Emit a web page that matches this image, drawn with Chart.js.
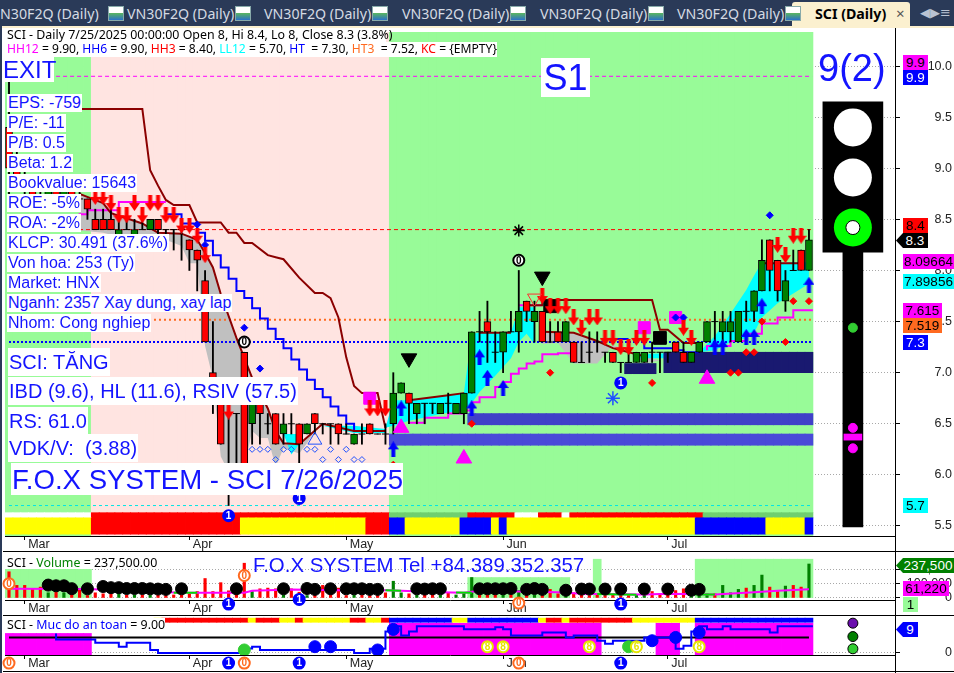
<!DOCTYPE html>
<html>
<head>
<meta charset="utf-8">
<title>SCI Daily</title>
<script src="https://cdn.jsdelivr.net/npm/chart.js@4"></script>
<style>
html, body { margin: 0; padding: 0; background: #fff; overflow: hidden; }
#page { position: relative; width: 954px; height: 673px; overflow: hidden; font-family: "Liberation Sans", sans-serif; }
canvas { position: absolute; left: 0; display: block; }
.t { position: absolute; white-space: pre; }
.info { color: #1414ff; background: #fff; font-size: 16px; line-height: 18px; padding: 0 1px; }
.big { color: #1414ff; background: #fff; font-size: 20px; line-height: 28px; padding: 0 1px; }
.leg { color: #000; font-family: "Noto Sans", sans-serif; font-size: 12.4px; line-height: 14px; }
.tab { position: absolute; top: 5px; color: #d5dae3; font: 14.2px "Noto Sans", sans-serif; line-height: 18px; white-space: pre; }
.ico { position: absolute; top: 6px; width: 16px; height: 15px; background: linear-gradient(#fff 45%, #5cb85c 45%, #2b70c9); border: 1px solid #8aa; box-sizing: border-box; }
.tag { position: absolute; height: 15px; line-height: 15px; font-size: 13.5px; text-align: center; }
.ln { position: absolute; background: #000; }
</style>
</head>
<body>
<div id="page">
  <div style="position:absolute;left:0;top:0;width:954px;height:26px;background:#2a3a58"></div>
  <div style="position:absolute;left:0;top:26px;width:954px;height:2px;background:#fbf0cf"></div>
  <div style="position:absolute;left:0;top:26px;width:2px;height:647px;background:#2a3a58"></div>
  <div style="position:absolute;left:792px;top:2px;width:118px;height:25px;background:#fbf0cf;border-radius:3px 3px 0 0"></div>
  <div id="tabs"></div>
  <div class="t" style="left:815px;top:5px;font:bold 14.2px 'Noto Sans',sans-serif;line-height:18px;color:#000">SCI (Daily)</div>
  <div class="t" style="left:896px;top:4px;font:15px 'Noto Sans',sans-serif;line-height:18px;color:#555">×</div>
  <div class="t" style="left:920px;top:5px;font:13px 'DejaVu Sans',sans-serif;line-height:16px;color:#b9c2d2">◀▶≡</div>

  <canvas id="mainChart" width="954" height="524" style="top:28px"></canvas>
  <canvas id="volChart" width="954" height="64" style="top:552px"></canvas>
  <canvas id="safeChart" width="954" height="55" style="top:616px"></canvas>

  <div class="ln" style="left:3px;top:551px;width:951px;height:1px"></div>
  <div class="ln" style="left:3px;top:615px;width:951px;height:1px"></div>
  <div class="ln" style="left:3px;top:671px;width:951px;height:1px"></div>
  <div class="ln" style="left:895px;top:28px;width:1px;height:645px"></div>

  <div class="t leg" style="left:5px;top:28px;width:379px;background:#fff;padding-left:2px">SCI - Daily 7/25/2025 00:00:00 Open 8, Hi 8.4, Lo 8, Close 8.3 (3.8%)</div>
  <div class="t leg" style="left:5px;top:42px;width:490px;background:#fff;padding-left:2px;height:15px;font-size:12.1px"><span style="color:#f0f">HH12</span> = 9.90, <span style="color:#00f">HH6</span> = 9.90, <span style="color:#f00">HH3</span> = 8.40, <span style="color:#0ff">LL12</span> = 5.70, <span style="color:#00f">HT</span>  = 7.30, <span style="color:#ff6a20">HT3</span>  = 7.52, <span style="color:#f00">KC</span> = {EMPTY}</div>

  <div class="t" style="left:3px;top:57px;width:51px;height:25px;background:#fff;color:#1414ff;font-size:24px;line-height:26px">EXIT</div>
  <div class="t" style="left:541px;top:58px;width:49px;height:39px;background:#fff;color:#1414ff;font-size:36px;line-height:40px;text-align:center">S1</div>
  <div class="t" style="left:818px;top:46px;color:#1414ff;font-size:38px;line-height:44px">9(2)</div>

  <div class="t info" style="left:7px;top:94px">EPS: -759</div>
  <div class="t info" style="left:7px;top:114px">P/E: -11</div>
  <div class="t info" style="left:7px;top:134px">P/B: 0.5</div>
  <div class="t info" style="left:7px;top:154px">Beta: 1.2</div>
  <div class="t info" style="left:7px;top:174px">Bookvalue: 15643</div>
  <div class="t info" style="left:7px;top:194px">ROE: -5%</div>
  <div class="t info" style="left:7px;top:214px">ROA: -2%</div>
  <div class="t info" style="left:7px;top:234px">KLCP: 30.491 (37.6%)</div>
  <div class="t info" style="left:7px;top:254px">Von hoa: 253 (Ty)</div>
  <div class="t info" style="left:7px;top:274px">Market: HNX</div>
  <div class="t info" style="left:7px;top:294px">Nganh: 2357 Xay dung, xay lap</div>
  <div class="t info" style="left:7px;top:314px">Nhom: Cong nghiep</div>

  <div class="t big" style="left:8px;top:348px">SCI: TĂNG</div>
  <div class="t big" style="left:8px;top:377px">IBD (9.6), HL (11.6), RSIV (57.5)</div>
  <div class="t big" style="left:8px;top:407px">RS: 61.0</div>
  <div class="t big" style="left:8px;top:434px">VDK/V:  (3.88)</div>
  <div class="t" style="left:11px;top:463px;width:392px;height:32px;background:#fff;color:#1414ff;font-size:27.6px;line-height:33px;padding-left:1px;box-sizing:border-box">F.O.X SYSTEM - SCI 7/26/2025</div>

  <div class="t leg" style="left:7px;top:556px">SCI - <span style="color:#008000">Volume</span> = 237,500.00</div>
  <div class="t" style="left:253px;top:553px;color:#1414ff;font-size:20.4px;line-height:24px">F.O.X SYSTEM Tel +84.389.352.357</div>
  <div class="t leg" style="left:7px;top:618px;background:#fff">SCI - <span style="color:#00f">Muc do an toan</span> = 9.00</div>
  <div id="tags"></div>
</div>

<script>
// tab bar
const tabTitles = ['N30F2Q (Daily)', 'VN30F2Q (Daily)', 'VN30F2Q (Daily)', 'VN30F2Q (Daily)', 'VN30F2Q (Daily)', 'VN30F2Q (Daily)'];

// bars: open, high, low, close, one entry per trading day
const candleOpen = [9.4, 9.0, 8.8, 8.8, 8.7, 8.7, 8.8, 8.7, 8.8, 8.7, 8.7, 8.5, 8.5, 8.5, 8.3, 8.4, 8.3, 8.4, 8.4, 8.5, 8.4, 8.4, 8.4, 8.3, 8.2, 7.9, 7.0, 6.7, 6.0, 6.6, 7.2, 6.5, 6.7, 6.5, 6.6, 6.4, 6.5, 6.5, 6.4, 6.6, 6.5, 6.5, 6.5, 6.4, 6.3, 6.4, 6.5, 6.4, 6.4, 6.5, 6.8, 6.8, 6.6, 6.7, 6.7, 6.6, 6.7, 6.6, 6.6, 6.8, 7.4, 7.5, 7.2, 7.2, 7.4, 7.4, 7.7, 7.5, 7.6, 7.3, 7.4, 7.3, 7.3, 7.1, 7.2, 7.3, 7.2, 7.2, 7.1, 7.1, 7.1, 7.1, 7.2, 7.2, 7.2, 7.3, 7.2, 7.1, 7.2, 7.3, 7.5, 7.4, 7.4, 7.3, 7.6, 7.6, 7.8, 8.3, 8.1, 7.7, 8.0, 8.2, 8.0];
const candleHigh = [9.9, 9.2, 9.0, 8.9, 8.9, 8.8, 8.9, 8.8, 8.9, 8.8, 8.7, 8.6, 8.6, 8.6, 8.5, 8.5, 8.5, 8.5, 8.5, 8.5, 8.4, 8.4, 8.4, 8.3, 8.2, 8.0, 7.5, 6.7, 6.6, 6.6, 7.2, 6.7, 6.7, 6.6, 6.6, 6.6, 6.6, 6.5, 6.5, 6.6, 6.5, 6.5, 6.5, 6.5, 6.4, 6.5, 6.5, 6.4, 6.5, 7.0, 6.9, 6.8, 6.7, 6.7, 6.7, 6.7, 6.8, 6.7, 6.8, 7.4, 7.6, 7.7, 7.4, 7.4, 7.6, 8.0, 7.7, 7.7, 7.6, 7.5, 7.5, 7.5, 7.3, 7.3, 7.4, 7.4, 7.2, 7.2, 7.1, 7.2, 7.2, 7.2, 7.3, 7.2, 7.2, 7.3, 7.3, 7.2, 7.3, 7.5, 7.6, 7.6, 7.6, 7.6, 7.7, 7.8, 8.3, 8.3, 8.1, 8.0, 8.2, 8.2, 8.4];
const candleLow = [8.7, 8.8, 8.7, 8.7, 8.6, 8.6, 8.7, 8.6, 8.7, 8.6, 8.5, 8.4, 8.4, 8.4, 8.3, 8.4, 8.3, 8.4, 8.4, 8.3, 8.3, 8.2, 8.1, 8.0, 7.8, 7.3, 6.6, 6.3, 5.7, 6.1, 6.0, 6.3, 6.3, 6.4, 6.3, 6.3, 6.4, 6.1, 6.4, 6.4, 6.4, 6.3, 6.3, 6.4, 6.3, 6.3, 6.4, 6.4, 6.3, 6.4, 6.8, 6.5, 6.5, 6.5, 6.6, 6.6, 6.6, 6.6, 6.5, 6.8, 7.3, 7.1, 7.1, 7.0, 7.4, 7.2, 7.5, 7.3, 7.3, 7.3, 7.3, 7.3, 7.1, 7.1, 7.1, 7.2, 7.1, 7.1, 7.0, 7.1, 7.1, 7.1, 7.1, 7.0, 7.1, 7.2, 7.1, 7.1, 7.2, 7.3, 7.3, 7.3, 7.3, 7.3, 7.5, 7.5, 7.8, 7.8, 7.7, 7.6, 8.0, 8.0, 8.0];
const candleClose = [9.0, 8.8, 8.8, 8.7, 8.7, 8.8, 8.7, 8.8, 8.7, 8.7, 8.6, 8.4, 8.4, 8.4, 8.4, 8.4, 8.4, 8.4, 8.5, 8.4, 8.4, 8.4, 8.4, 8.2, 8.1, 7.3, 6.9, 6.3, 6.0, 6.6, 6.0, 6.7, 6.6, 6.5, 6.3, 6.5, 6.5, 6.3, 6.5, 6.5, 6.5, 6.5, 6.4, 6.4, 6.4, 6.4, 6.4, 6.4, 6.4, 6.8, 6.9, 6.7, 6.7, 6.7, 6.7, 6.7, 6.7, 6.7, 6.8, 7.4, 7.4, 7.4, 7.2, 7.4, 7.4, 7.6, 7.6, 7.6, 7.3, 7.3, 7.3, 7.5, 7.1, 7.1, 7.2, 7.3, 7.2, 7.1, 7.1, 7.1, 7.2, 7.2, 7.2, 7.2, 7.2, 7.2, 7.1, 7.2, 7.3, 7.5, 7.5, 7.5, 7.5, 7.6, 7.6, 7.8, 8.1, 8.0, 7.8, 7.9, 8.0, 8.0, 8.3];

const volumeValues = [183000, 88000, 88000, 64000, 76000, 36000, 40000, 36000, 52000, 64000, 17000, 36000, 29000, 29000, 33000, 21000, 21000, 21000, 21000, 21000, 17000, 21000, 21000, 29000, 45000, 136000, 45000, 107000, 50000, 36000, 243000, 45000, 64000, 69000, 64000, 21000, 64000, 40000, 17000, 36000, 88000, 29000, 69000, 17000, 21000, 21000, 17000, 17000, 36000, 117000, 36000, 29000, 21000, 29000, 29000, 21000, 36000, 21000, 36000, 143000, 21000, 21000, 21000, 21000, 21000, 52000, 21000, 21000, 21000, 60000, 29000, 21000, 36000, 21000, 17000, 21000, 17000, 21000, 21000, 17000, 21000, 29000, 45000, 29000, 21000, 52000, 64000, 36000, 40000, 29000, 29000, 88000, 36000, 60000, 69000, 88000, 160000, 76000, 45000, 83000, 88000, 76000, 237500];

// x axis
const monthTicks = [2, 23, 43, 63, 84];
const monthLabels = ['Mar', 'Apr', 'May', 'Jun', 'Jul'];
const priceTicks = [5.5, 6, 6.5, 7, 7.5, 8, 8.5, 9, 9.5, 10];
const volumeTicks = [0, 100000, 200000];
const safetyTicks = [0];

// horizontal levels
const levelHH12 = 9.9, levelHH3 = 8.4, levelHT3 = 7.519, levelHT = 7.3, levelLL12 = 5.7;

// [bar, price] stop and average lines
const stopUpper = [[9, 9.58], [17, 9.58], [18, 8.98], [19, 8.83], [20, 8.69], [21, 8.64], [23, 8.64], [24, 8.47], [27, 8.47], [28, 8.37], [29, 8.37], [30, 8.27], [31, 8.27], [33, 8.15], [34, 8.13], [35, 8.11], [37, 7.93], [39, 7.78], [40, 7.78], [41, 7.73], [42, 7.54], [43, 7.15], [44, 6.87], [45, 6.8], [47, 6.8], [48, 6.46]];
const stopLower = [[9, 8.75], [12, 8.66], [13, 8.56], [17, 8.46], [19, 8.37], [22, 8.36], [24, 8.3], [25, 8.17], [26, 8.03], [27, 7.77], [29, 7.34], [31, 6.95], [33, 6.65], [34, 6.43], [35, 6.31], [37, 6.3], [40, 6.5], [44, 6.43], [46, 6.43], [48, 6.43]];
const stopHigh = [[51, 6.73], [56, 6.78], [58, 6.8], [58.5, null], [60, 7.39], [64, 7.39], [64.5, null], [66, 7.66], [68, 7.66], [68, 7.71], [82, 7.71], [83, 7.42], [84, 7.42], [86, 7.29], [88, 7.29], [88.5, null], [96, 8.07], [101, 8.07]];
const stopFall = [[68, 7.4], [72, 7.39], [75, 7.31], [77, 7.24], [81, 7.16]];
const blueStep = [[20, 8.6], [22, 8.55], [24, 8.46], [25, 8.37], [26, 8.29], [27, 8.15], [28, 8.03], [29, 7.92], [30, 7.8], [31, 7.73], [32, 7.63], [33, 7.53], [34, 7.43], [35, 7.33], [36, 7.24], [37, 7.13], [38, 7.03], [39, 6.93], [40, 6.84], [41, 6.76], [42, 6.67], [43, 6.58], [44, 6.5], [45, 6.43], [48, 6.43]];
const blueStepLow = [[76, 7.33], [79, 7.33], [79.5, null], [81, 7.28], [85, 7.24], [86, 7.22], [88, 7.2]];
const magentaStep = [[9, 8.46], [10, 8.55], [14, 8.59], [16, 8.67], [20, 8.67], [20.5, null], [51, 6.5], [53, 6.51], [56, 6.56], [58, 6.6], [59, 6.63], [60, 6.71], [62, 6.76], [63, 6.86], [64, 6.91], [65, 6.99], [66, 7.04], [67, 7.09], [68, 7.11], [70, 7.18], [72, 7.19], [72.5, null], [89, 7.22], [92, 7.26], [94, 7.31], [96, 7.38], [98, 7.48], [100, 7.54], [101, 7.61], [102.5, 7.61]];
const magentaTop = [[65, 7.66], [68, 7.66], [68.5, null], [69, 7.71], [73, 7.71]];

// [bar, upper, lower] shaded clouds
const greyCloudA = [[9, 8.75, 8.39], [12, 8.66, 8.37], [14, 8.52, 8.33], [17, 8.46, 8.33], [19, 8.37, 8.33], [22, 8.36, 8.24], [23, 8.33, 8.07], [24, 8.3, 8.07], [25, 8.17, 7.26], [26, 8.03, 6.94], [27, 7.77, 6.18], [28, 7.55, 6.03], [29, 7.34, 6.08], [30, 7.15, 6.08], [31, 6.95, 6.43], [32, 6.8, 6.36], [33, 6.65, 6.36], [34, 6.43, 6.08], [35, 6.31, 6.26], [37, 6.3, 6.21], [38, 6.37, 6.31], [39, 6.44, 6.43]];
const greyCloudB = [[68, 7.4, 7.28], [70, 7.4, 7.29], [72, 7.39, 7.09], [75, 7.31, 7.09], [77, 7.24, 7.27], [79, 7.2, 7.22], [81, 7.16, 7.09], [83, 7.12, 7.12]];
const cyanCloudA = [[48, 6.46, 6.46], [49, 6.73, 6.48], [51, 6.73, 6.53], [56, 6.78, 6.61], [58, 6.8, 6.63], [59, 7.38, 6.7], [60, 7.39, 6.81], [62, 7.39, 6.97], [64, 7.39, 7.14], [65, 7.64, 7.3], [66, 7.64, 7.38], [67, 7.64, 7.28]];
const cyanCloudB = [[88, 7.2, 7.2], [90, 7.36, 7.22], [92, 7.58, 7.3], [94, 7.81, 7.34], [95, 7.95, 7.39], [96, 8.08, 7.54], [98, 8.08, 7.68], [102, 8.08, 7.87]];
const cyanCloudC = [[35, 6.4, 6.4], [36, 6.4, 6.2], [37, 6.4, 6.3]];
const cyanCloudD = [[40, 6.48, 6.48], [44, 6.48, 6.41], [48, 6.45, 6.41]];
const cyanCloudE = [[80, 7.18, 7.14], [88, 7.2, 7.14]];

// [first bar, last bar, price low, price high] support boxes
const supportBoxes = [[49, 102, 6.29, 6.4, '#4a4ad8'], [59, 102, 6.49, 6.6, '#4040c8'], [84, 102, 7.0, 7.2, '#191970'], [79, 82, 6.99, 7.09, '#191970']];

// markers [bar, price]
const redArrows = [[11, 8.72], [12, 8.72], [13, 8.66], [14, 8.54], [15, 8.54], [16, 8.66], [17, 8.54], [18, 8.66], [19, 8.66], [20, 8.54], [21, 8.54], [22, 8.44], [23, 8.44], [24, 8.34], [25, 8.15], [28, 6.62], [46, 6.65], [47, 6.65], [48, 6.65], [68, 7.75], [69, 7.65], [70, 7.65], [71, 7.65], [72, 7.54], [73, 7.44], [74, 7.54], [75, 7.54], [76, 7.34], [77, 7.34], [78, 7.25], [79, 7.25], [80, 7.34], [81, 7.34], [86, 7.44], [87, 7.34], [98, 8.25], [99, 8.15], [100, 8.34], [101, 8.34]];
const blueArrows = [[49, 6.25], [50, 6.65], [59, 6.65], [60, 7.15], [61, 6.95], [63, 6.85], [90, 7.25], [91, 7.25], [94, 7.35], [95, 7.35], [96, 7.65], [102, 7.86]];
const blueDiamonds = [[24, 8.45], [25, 8.25], [30, 7.44], [32, 7.04], [85, 7.54], [86, 7.54], [97, 8.54]];
const redDiamonds = [[49, 6.1], [59, 6.5], [69, 7.0], [82, 6.9], [92, 7.0], [93, 7.0], [94, 7.2], [95, 7.2], [96, 7.5], [99, 7.3], [100, 7.7], [102, 7.7]];
const hollowDiamonds = [[31, 6.25], [32, 6.25], [33, 6.25], [35, 6.25], [36, 6.25], [38, 6.25], [39, 6.25], [41, 6.25], [43, 6.25], [34, 6.15], [40, 6.15], [42, 6.15], [44, 6.15], [45, 6.15]];
const magentaTriangles = [[50, 6.46], [58, 6.16], [89, 6.94]];
const blackTriangles = [[51, 7.14], [68, 7.94]];
const hollowRedTriangles = [[67, 7.73]];
const hollowBlueTriangles = [[39, 6.34]];
const magentaSquares = [[46, 6.75], [81, 7.44], [85, 7.54]];
const blackSquares = [[69, 7.65], [83, 7.34]];
const blackStars = [[65, 8.39]];
const blueStars = [[77, 6.75]];

// traffic light, drawn on the empty bars right of the last trading day
const lightBar = 107.6;
const lightHousing = [8.18, 9.65];
const lightPole = [5.49, 8.18];
const lightDash = [6.34, 6.4];
const lightWhite = [9.4, 8.91];
const lightGreen = [8.42];
const lightDotGreen = [7.44];
const lightDotMagenta = [6.46, 6.26];

// background colour runs [first bar, last bar, colour]
const regimeRuns = [[0, 10, '#98fb98'], [11, 48, '#ffe4e1'], [49, 102, '#98fb98']];
const stripTopRuns = [[0, 10, '#ffffff'], [11, 48, '#ff0000'], [49, 58, '#6fcf6f'], [59, 64, '#ff0000'], [65, 67, '#ffffff'], [68, 70, '#ff0000'], [71, 71, '#ffffff'], [72, 88, '#ff0000'], [89, 102, '#6fcf6f']];
const stripLowRuns = [[0, 10, '#ffff00'], [11, 29, '#ff0000'], [30, 45, '#ffff00'], [46, 48, '#ff0000'], [49, 50, '#0000ff'], [51, 57, '#ffff00'], [58, 61, '#0000ff'], [62, 62, '#ffff00'], [63, 63, '#0000ff'], [64, 87, '#ffff00'], [88, 96, '#0000ff'], [97, 101, '#ffff00'], [102, 102, '#0000ff']];
const stripFootRuns = [[0, 10, '#98fb98'], [11, 48, '#ffe4e1'], [49, 102, '#98fb98']];

// volume pane
const volumeDots = [[5, 90000], [6, 85000], [7, 85000], [8, 65000], [10, 64000], [12, 80000], [13, 72000], [14, 72000], [15, 66000], [16, 66000], [17, 66000], [18, 64000], [19, 62000], [20, 60000], [22, 64000], [29, 64000], [35, 64000], [38, 66000], [39, 60000], [41, 64000], [43, 64000], [44, 64000], [45, 64000], [46, 60000], [47, 60000], [52, 64000], [53, 62000], [54, 64000], [55, 64000], [60, 64000], [61, 64000], [62, 64000], [63, 64000], [64, 66000], [66, 60000], [67, 66000], [68, 60000], [71, 54000], [73, 62000], [74, 62000], [76, 62000], [78, 62000], [81, 62000], [84, 62000], [87, 54000], [88, 60000]];
const volumeAverage = [[0, 64000], [10, 62000], [22, 36000], [30, 36000], [31, 50000], [36, 60000], [46, 50000], [47, 55000], [50, 50000], [55, 40000], [58, 36000], [60, 50000], [70, 40000], [73, 30000], [81, 25000], [84, 30000], [90, 25000], [95, 40000], [98, 50000], [102, 61220]];
const volumeAverageGreen = [[21, 36000], [24, 36000], [24.5, null], [44, 48000], [47, 48000], [47.5, null], [48, 54000], [50, 50000], [50.5, null], [57, 38000], [59, 36000], [59.5, null], [75, 28000], [80, 22000], [80.5, null], [87, 24000], [90, 24000]];
const volumeBgRuns = [[0, 10, 200000], [59, 71, 143000], [75, 75, 271000], [88, 102, 271000]];

// safety pane
const safetyLine = [[6, 6.55], [11, 4.5], [14, 3.45], [15, 2.1], [18, 3.45], [19, 1], [24, 0], [30, 0], [31, 1.5], [32, 2.1], [44, 1], [46, 0], [48, 1.4], [49, 7.2], [50, 9], [51, 5.9], [52, 7.2], [58, 9], [62, 8], [63, 8.6], [64, 8], [68, 5.9], [71, 6.9], [72, 5.2], [75, 5.9], [76, 4.1], [77, 3.1], [81, 4.1], [85, 5.2], [86, 1.4], [87, 2.4], [88, 7.2], [89, 9], [91, 8], [92, 9], [97, 8], [98, 6.9], [102, 9], [102.5, 9]];
const safetyLevel = 5.2;
const safetyBlueDots = [[39, 2.1], [41, 2.1], [47, 1], [49, 7.9], [82, 4.1], [85, 5.2], [88, 6.9]];
const safetyGreenDots = [[30, 1], [79, 2.1]];
const safetyBgRuns = [[0, 10, 6.55], [49, 75, 10], [83, 85, 10], [88, 102, 10]];
const safetyStripRuns = [[19, 19, '#ffff00'], [20, 30, '#ff0000'], [31, 31, '#ffff00'], [32, 34, '#ff0000'], [35, 36, '#ffff00'], [37, 37, '#ff0000'], [38, 43, '#ffff00'], [44, 45, '#ff0000'], [46, 47, '#ffff00'], [48, 48, '#ff0000'], [49, 56, '#0000ff'], [57, 58, '#ffff00'], [59, 67, '#0000ff'], [68, 68, '#ffff00'], [69, 70, '#ff0000'], [71, 71, '#ffff00'], [72, 79, '#ff0000'], [80, 87, '#ffff00'], [88, 102, '#0000ff']];
const safetySideDots = [[10, '#6a0dad'], [5.5, '#008000'], [1.4, '#32cd32']];

// numbered badges [bar, value, text, colour, filled]
const mainBadges = [[65, 8.1, '0', '#000', false], [30, 7.3, '0', '#000', false], [78, 6.9, '1', '#0000ff', true], [28, 5.6, '1', '#0000ff', true], [37, 5.77, '1', '#0000ff', true]];
const volumeBadges = [[0, 100000, '0', '#ff6a20', false], [30, 157000, '0', '#ff6a20', false], [28, -43000, '1', '#0000ff', true], [37, -10000, '1', '#0000ff', true], [78, -43000, '1', '#0000ff', true], [65, -36000, '0', '#ff6a20', false]];
const safetyBadges = [[0, -3.4, '0', '#ff6a20', false], [28, -3.4, '1', '#0000ff', true], [30, -3.4, '0', '#ff6a20', false], [37, -3.4, '1', '#0000ff', true], [78, -3.4, '1', '#0000ff', true], [65, -3.4, '0', '#ff6a20', false], [61, 2.1, '8', '#e6e600', false], [63, 2.1, '8', '#e6e600', false], [74, 2.1, '8', '#e6e600', false], [80, 2.1, '6', '#e6e600', false], [88, 2.1, '8', '#e6e600', false]];

// value flags beside the axis
const flags = [
  ['9.9', 903, 55, 25, '#ff00ff', '#000'], ['9.9', 903, 70, 25, '#0000ff', '#fff'],
  ['8.4', 903, 218, 25, '#ff0000', '#000'], ['8.3', 896, 233, 32, '#000000', '#fff', true],
  ['8.09664', 903, 254, 51, '#ff00ff', '#000'], ['7.89856', 903, 274, 51, '#00ffff', '#000'],
  ['7.615', 903, 303, 39, '#ff00ff', '#000'], ['7.519', 903, 318, 39, '#ff6a20', '#000'],
  ['7.3', 903, 335, 25, '#0000ff', '#fff'], ['5.7', 903, 498, 25, '#00ffff', '#000'],
  ['61,220', 903, 581, 46, '#ff00ff', '#000'], ['1', 903, 597, 15, '#98fb98', '#000'],
  ['237,500', 896, 558, 58, '#008000', '#fff', true], ['9', 896, 622, 22, '#0000ff', '#fff', true]
];

const tabLeft = [0, 127, 264, 402, 540, 677];
tabTitles.forEach((title, k) => {
  document.getElementById('tabs').insertAdjacentHTML('beforeend',
    '<div class="tab" style="left:' + tabLeft[k] + 'px">' + title + '</div>' +
    '<div class="ico" style="left:' + (tabLeft[k] + 108) + 'px"></div>');
});
flags.forEach(f => {
  const clip = f[6] ? 'clip-path:polygon(7px 0,100% 0,100% 100%,7px 100%,0 50%);padding-left:6px;box-sizing:border-box;' : '';
  document.getElementById('tags').insertAdjacentHTML('beforeend',
    '<div class="tag" style="left:' + f[1] + 'px;top:' + f[2] + 'px;width:' + f[3] + 'px;background:' + f[4] + ';color:' + f[5] + ';' + clip + '">' + f[0] + '</div>');
});

const pts = pairs => pairs.map(p => ({ x: p[0], y: p[1] }));

function lineSet(pairs, color, width, extra) {
  return Object.assign({
    type: 'line', data: pts(pairs), borderColor: color, borderWidth: width,
    pointRadius: 0, fill: false, spanGaps: false, tension: 0
  }, extra || {});
}

function levelSet(from, value, color, width, dash) {
  return lineSet([[from, value], [102.4, value]], color, width, { borderDash: dash });
}

function dotSet(pairs, style, radius, fill, stroke, width) {
  return {
    type: 'line', data: pts(pairs), showLine: false, pointStyle: style, pointRadius: radius,
    pointBackgroundColor: fill, pointBorderColor: stroke || fill, pointBorderWidth: width === undefined ? 1 : width
  };
}

function cloudSets(rows, color) {
  return [
    lineSet(rows.map(r => [r[0], r[1]]), 'transparent', 0),
    lineSet(rows.map(r => [r[0], r[2]]), 'transparent', 0, { fill: '-1', backgroundColor: color })
  ];
}

function barSet(items, colors, thickness, extra) {
  return Object.assign({
    type: 'bar', data: items, backgroundColor: colors, barThickness: thickness,
    grouped: false, borderWidth: 0
  }, extra || {});
}

// one filled bar per trading day from a colour run table
function runBars(runs, low, high) {
  const items = [], colors = [];
  runs.forEach(r => {
    for (let i = r[0]; i <= r[1]; i++) { items.push({ x: i, y: [low, high] }); colors.push(r[2]); }
  });
  return barSet(items, colors, 8);
}

function arrowImage(color, down) {
  const c = document.createElement('canvas');
  c.width = 11; c.height = 16;
  const g = c.getContext('2d');
  g.fillStyle = color;
  g.translate(0, down ? 16 : 0);
  g.scale(1, down ? -1 : 1);
  g.beginPath();
  g.moveTo(5.5, 0); g.lineTo(11, 8); g.lineTo(7.5, 8); g.lineTo(7.5, 16);
  g.lineTo(3.5, 16); g.lineTo(3.5, 8); g.lineTo(0, 8); g.closePath();
  g.fill();
  return c;
}

function badgePlugin(items) {
  return {
    id: 'badges',
    afterDatasetsDraw(chart) {
      const g = chart.ctx, sx = chart.scales.x, sy = chart.scales.y;
      g.save();
      items.forEach(b => {
        const x = sx.getPixelForValue(b[0]), y = sy.getPixelForValue(b[1]);
        g.beginPath();
        g.arc(x, y, 5.5, 0, Math.PI * 2);
        g.fillStyle = b[4] ? b[3] : '#fff';
        g.fill();
        g.lineWidth = 2;
        g.strokeStyle = b[3];
        g.stroke();
        g.fillStyle = b[4] ? '#fff' : b[3];
        g.font = 'bold 10px "Liberation Sans"';
        g.textAlign = 'center';
        g.textBaseline = 'middle';
        g.fillText(b[2], x, y + 0.5);
      });
      g.restore();
    }
  };
}

// later sets in the list are drawn on top
function layer(sets) {
  sets.forEach((d, k) => { d.order = sets.length - k; });
  return sets;
}

function paneOptions(yMin, yMax, yTicks, yLabel) {
  return {
    responsive: false,
    animation: false,
    events: [],
    layout: { autoPadding: false, padding: { left: 5, right: 2, top: 0, bottom: 0 } },
    plugins: { legend: { display: false }, tooltip: { enabled: false } },
    scales: {
      x: {
        type: 'linear', min: -0.51, max: 112.97, offset: false,
        afterBuildTicks: axis => { axis.ticks = monthTicks.map(v => ({ value: v })); },
        afterFit: axis => { axis.height = 16; axis.paddingLeft = 0; axis.paddingRight = 0; },
        grid: { drawOnChartArea: false, offset: false, tickLength: 4, tickColor: '#000' },
        border: { color: '#000' },
        ticks: {
          align: 'start', padding: -3, maxRotation: 0, autoSkip: false, color: '#222',
          font: { family: 'Liberation Sans', size: 12.5 },
          callback: v => ' ' + monthLabels[monthTicks.indexOf(v)]
        }
      },
      y: {
        position: 'right', min: yMin, max: yMax,
        afterBuildTicks: axis => { axis.ticks = yTicks.map(v => ({ value: v })); },
        afterFit: axis => { axis.width = 57; axis.paddingTop = 0; axis.paddingBottom = 0; },
        grid: { color: '#a8a8a8', tickColor: '#000', tickLength: 5 },
        border: { color: '#000', dash: [1, 2] },
        ticks: {
          crossAlign: 'far', autoSkip: false, color: '#222',
          font: { family: 'Liberation Sans', size: 12.5 },
          callback: yLabel
        }
      }
    }
  };
}

const allBars = candleClose.map((c, i) => i);
const wickItems = allBars.map(i => ({ x: i, y: [candleLow[i], candleHigh[i]] }));
const bodyBars = allBars.filter(i => candleOpen[i] !== candleClose[i]);
const bodyItems = bodyBars.map(i => ({ x: i, y: [candleOpen[i], candleClose[i]] }));
const bodyColors = bodyBars.map(i => candleClose[i] > candleOpen[i] ? '#008000' : '#ff0000');
const dojiPairs = allBars.filter(i => candleOpen[i] === candleClose[i]).map(i => [i, candleClose[i]]);

const boxSets = supportBoxes.map(b => {
  const items = [];
  for (let i = b[0]; i <= b[1]; i++) items.push({ x: i, y: [b[2], b[3]] });
  return barSet(items, b[4], 8);
});

new Chart(document.getElementById('mainChart'), {
  type: 'bar',
  data: {
    datasets: layer([
      runBars(regimeRuns, 5.63, 10.33),
      runBars(stripFootRuns, 5.4, 5.42),
      runBars(stripTopRuns, 5.58, 5.63),
      runBars(stripLowRuns, 5.42, 5.58),
      levelSet(0, levelLL12, '#00e5e5', 1, [3, 3]),
      ...cloudSets(greyCloudA, '#c0c0c0'),
      ...cloudSets(greyCloudB, '#c0c0c0'),
      ...cloudSets(cyanCloudA, '#00ffff'),
      ...cloudSets(cyanCloudB, '#00ffff'),
      ...cloudSets(cyanCloudC, '#00ffff'),
      ...cloudSets(cyanCloudD, '#00ffff'),
      ...cloudSets(cyanCloudE, '#00ffff'),
      ...boxSets,
      levelSet(6, levelHH12, '#ff00ff', 1, [4, 3]),
      levelSet(0, levelHH3, '#ff0000', 1, [4, 3]),
      levelSet(0, levelHT3, '#ff6a20', 2, [2, 3]),
      levelSet(0, levelHT, '#0000ff', 2, [2, 2]),
      lineSet(magentaStep, '#ff00ff', 2, { stepped: 'after' }),
      lineSet(magentaTop, '#ff00ff', 2, { stepped: 'after' }),
      lineSet(blueStep, '#0000ff', 2, { stepped: 'after' }),
      lineSet(blueStepLow, '#0000ff', 2, { stepped: 'after' }),
      lineSet(stopUpper, '#8b0000', 2),
      lineSet(stopLower, '#8b0000', 2),
      lineSet(stopHigh, '#8b0000', 2),
      lineSet(stopFall, '#8b0000', 2),
      dotSet(magentaSquares, 'rect', 8.5, '#ff00ff'),
      dotSet(blackSquares, 'rect', 9, '#000'),
      barSet(wickItems, '#000', 1.2),
      barSet(bodyItems, bodyColors, 7, { borderWidth: 1, borderColor: '#000', borderSkipped: false }),
      dotSet(dojiPairs, 'line', 3.5, '#000', '#000', 1),
      dotSet(hollowDiamonds, 'rectRot', 3, 'transparent', '#1e50ff', 1),
      dotSet(blueDiamonds, 'rectRot', 3.5, '#0000ff'),
      dotSet(redDiamonds, 'rectRot', 3.5, '#ff0000'),
      dotSet(blueArrows, arrowImage('#0000ff', false), 8, '#0000ff'),
      dotSet(redArrows, arrowImage('#ff0000', true), 8, '#ff0000'),
      dotSet(magentaTriangles, 'triangle', 9, '#ff00ff'),
      Object.assign(dotSet(blackTriangles, 'triangle', 9, '#000'), { pointRotation: 180 }),
      Object.assign(dotSet(hollowRedTriangles, 'triangle', 8, 'transparent', '#ff3030', 1), { pointRotation: 180 }),
      dotSet(hollowBlueTriangles, 'triangle', 8, 'transparent', '#1e50ff', 1),
      dotSet(blackStars, 'star', 6, '#000', '#000', 1.5),
      dotSet(blueStars, 'star', 7, 'transparent', '#1e50ff', 1.5),
      // traffic light
      barSet([{ x: lightBar, y: lightHousing }], '#000', 60),
      barSet([{ x: lightBar, y: lightPole }], '#000', 20),
      dotSet(lightWhite.map(v => [lightBar, v]), 'circle', 19, '#fff', '#fff', 0),
      dotSet(lightGreen.map(v => [lightBar, v]), 'circle', 19, '#00ff00', '#00ff00', 0),
      dotSet(lightGreen.map(v => [lightBar, v]), 'circle', 7, '#fff', '#000', 1),
      dotSet(lightDotGreen.map(v => [lightBar, v]), 'circle', 4.5, '#32cd32'),
      dotSet(lightDotMagenta.map(v => [lightBar, v]), 'circle', 4.5, '#ff00ff'),
      barSet([{ x: lightBar, y: lightDash }], '#ff00ff', 18)
    ])
  },
  options: paneOptions(5.402, 10.3725, priceTicks, v => v.toFixed(1)),
  plugins: [badgePlugin(mainBadges)]
});

const volumeBgBars = volumeBgRuns.map(r => {
  const items = [];
  for (let i = r[0]; i <= r[1]; i++) items.push({ x: i, y: [0, r[2]] });
  return barSet(items, '#98fb98', 8);
});

new Chart(document.getElementById('volChart'), {
  type: 'bar',
  data: {
    datasets: layer([
      ...volumeBgBars,
      barSet(volumeValues.map((v, i) => ({ x: i, y: v })), volumeValues.map((v, i) => candleClose[i] > candleOpen[i] ? '#008000' : '#ff0000'), 2.5),
      lineSet(volumeAverage, '#ff00ff', 2),
      lineSet(volumeAverageGreen, '#00e000', 2),
      dotSet(volumeDots, 'circle', 6, '#000')
    ])
  },
  options: paneOptions(-14286, 321428, volumeTicks, v => v === 0 ? '0' : v.toLocaleString('en-US')),
  plugins: [badgePlugin(volumeBadges)]
});

const safetyBgBars = safetyBgRuns.map(r => {
  const items = [];
  for (let i = r[0]; i <= r[1]; i++) items.push({ x: i, y: [-0.69, r[2]] });
  return barSet(items, '#ff00ff', 8);
});

new Chart(document.getElementById('safeChart'), {
  type: 'bar',
  data: {
    datasets: layer([
      ...safetyBgBars,
      runBars(safetyStripRuns, 10.3, 11.7),
      lineSet([[0, safetyLevel], [102, safetyLevel]], '#000', 2),
      lineSet(safetyLine, '#0000ff', 2, { stepped: 'after' }),
      dotSet(safetyBlueDots, 'circle', 6, '#0000ff'),
      dotSet(safetyGreenDots, 'circle', 6, '#32cd32'),
      dotSet(safetySideDots.map(d => [lightBar, d[0]]), 'circle', 5, safetySideDots.map(d => d[1]), '#000', 1)
    ])
  },
  options: paneOptions(-0.69, 12.41, safetyTicks, v => '0'),
  plugins: [badgePlugin(safetyBadges)]
});
</script>
</body>
</html>
